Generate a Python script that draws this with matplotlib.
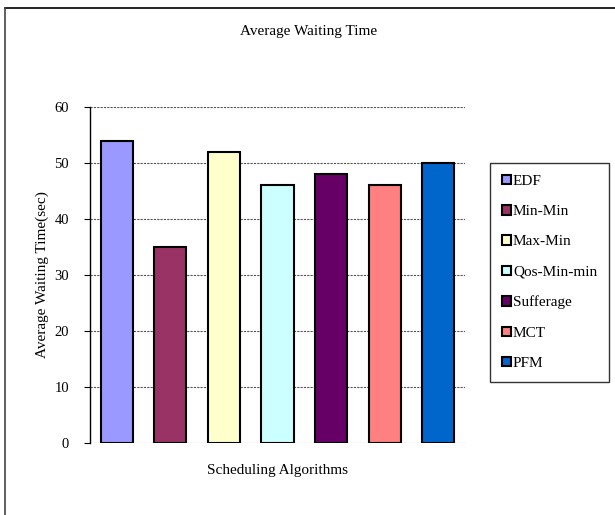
import matplotlib
matplotlib.use("Agg")
import matplotlib.pyplot as plt
from matplotlib.lines import Line2D

plt.rcParams['font.family'] = ['Liberation Serif', 'DejaVu Serif']

algorithms = ['EDF', 'Min-Min', 'Max-Min', 'Qos-Min-min', 'Sufferage', 'MCT', 'PFM']
waiting = [54, 35, 52, 46, 48, 46, 50]
colors = ['#9999FF', '#993366', '#FFFFCC', '#CCFFFF', '#660066', '#FF8080', '#0066CC']
yticks = [0, 10, 20, 30, 40, 50, 60]

fig = plt.figure(figsize=(6.15, 5.15), dpi=100)
ax = fig.add_axes([90/615, 1-443/515, 375/615, 336/515])

bars = ax.bar(range(len(algorithms)), waiting, width=0.6, color=colors,
              edgecolor='black', linewidth=1.5, label=algorithms, zorder=3)

ax.set_xlim(-0.5, len(algorithms) - 0.5)
ax.set_ylim(0, 60)
ax.set_yticks(yticks)
ax.set_xticks([])
ax.yaxis.grid(True, linestyle=(0, (2, 1)), color='#555555', linewidth=0.8, zorder=0)
for s in ['top', 'right', 'bottom']:
    ax.spines[s].set_visible(False)
ax.spines['left'].set_linewidth(1.0)
ax.tick_params(axis='y', direction='out', length=4, width=0.8, labelsize=10.5, pad=11)

ax.set_ylabel('Average Waiting Time(sec)', fontsize=11, labelpad=4)
ax.set_xlabel('Scheduling Algorithms', fontsize=11, labelpad=15)
fig.text(309/615, 1-31/515, 'Average Waiting Time', ha='center', va='center', fontsize=11)

leg = fig.legend(bars, algorithms, loc='upper left',
                 bbox_to_anchor=(490/615, 1-163/515), fontsize=11,
                 frameon=True, fancybox=False, handlelength=0.55, handleheight=0.55,
                 handletextpad=0.15, labelspacing=1.12, borderpad=0.8,
                 borderaxespad=0)
leg.get_frame().set_edgecolor('black')
leg.get_frame().set_linewidth(1.0)

# outer frame: top and left edges
fig.add_artist(Line2D([4.5/615, 1], [1-8/515, 1-8/515], color='black', linewidth=1.2))
fig.add_artist(Line2D([4.5/615, 4.5/615], [0, 1-8/515], color='#444444', linewidth=1.2))

fig.savefig('out.png', dpi=100)
